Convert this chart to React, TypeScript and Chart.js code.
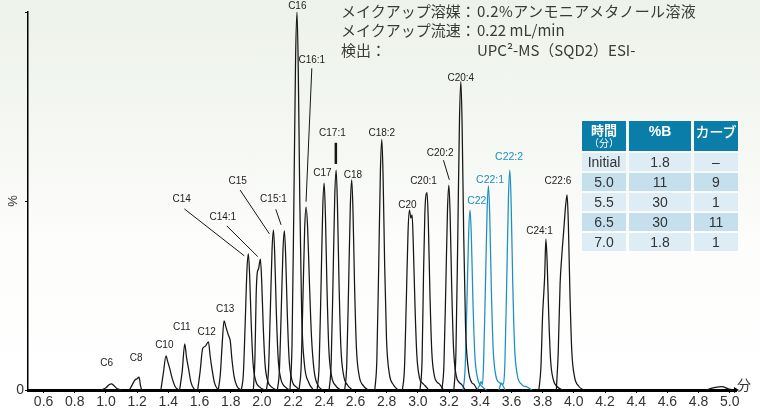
import React, { useEffect, useRef } from "react";
import { Chart, registerables } from "chart.js";

Chart.register(...registerables);

// ---- x-axis ticks (minutes) ----
const xTicks = [0.6, 0.8, 1.0, 1.2, 1.4, 1.6, 1.8, 2.0, 2.2, 2.4, 2.6, 2.8, 3.0, 3.2, 3.4, 3.6, 3.8, 4.0, 4.2, 4.4, 4.6, 4.8, 5.0];
const yTicks = [0, 50, 100];

// ---- chromatogram traces: [time (min), intensity (%)] ----
const pkC6 = [[0.97, 0], [1.0, 0.6], [1.02, 1.4], [1.035, 1.6], [1.05, 1.2], [1.07, 0.4], [1.1, 0]];
const pkC8 = [[1.15, 0], [1.17, 1.5], [1.185, 2.6], [1.2, 3.0], [1.212, 3.4], [1.22, 1.5], [1.228, 0]];
const pkC10 = [[1.352, 0], [1.368, 4.5], [1.385, 9.0], [1.396, 7.5], [1.41, 5.5], [1.425, 3], [1.445, 0.8], [1.47, 0]];
const pkC11 = [[1.472, 0], [1.489, 5], [1.505, 12.2], [1.517, 8.5], [1.53, 5.5], [1.545, 2], [1.565, 0.3], [1.58, 0]];
const pkC12 = [[1.588, 0], [1.604, 5], [1.62, 11.0], [1.635, 11.5], [1.657, 12.7], [1.668, 9], [1.68, 5.5], [1.695, 2], [1.715, 0.3], [1.73, 0]];
const pkC13 = [[1.72, 0], [1.733, 4], [1.745, 12], [1.757, 18.3], [1.77, 16.5], [1.785, 14.5], [1.797, 13], [1.808, 8], [1.822, 3.5], [1.84, 1], [1.865, 0]];
const pkC14 = [[1.868, 0], [1.881, 4.3], [1.893, 18], [1.904, 31.7], [1.913, 36], [1.921, 30.6], [1.931, 18], [1.943, 7.2], [1.96, 2.5], [1.988, 0.7], [2.018, 0]];
const pkC14_1 = [[1.945, 0], [1.955, 8], [1.963, 25], [1.97, 31], [1.978, 32], [1.99, 34.6], [1.998, 29.4], [2.008, 17.3], [2.02, 6.9], [2.037, 2.4], [2.065, 0.7], [2.095, 0]];
const pkC15 = [[2.029, 0], [2.042, 5.1], [2.054, 21.2], [2.065, 37.2], [2.074, 42.3], [2.082, 36], [2.092, 21.2], [2.104, 8.5], [2.121, 3], [2.149, 0.8], [2.179, 0]];
const pkC15_1 = [[2.099, 0], [2.112, 5.1], [2.124, 21.1], [2.135, 37], [2.144, 42.1], [2.152, 35.8], [2.162, 21.1], [2.174, 8.4], [2.191, 2.9], [2.219, 0.8], [2.249, 0]];
const pkC16 = [[2.18, 0], [2.193, 12], [2.205, 50], [2.216, 88], [2.225, 100], [2.233, 85], [2.243, 50], [2.255, 20], [2.272, 7], [2.3, 2], [2.33, 0]];
const pkC16_1 = [[2.238, 0], [2.251, 5.8], [2.263, 24.2], [2.274, 42.6], [2.283, 48.4], [2.293, 43], [2.305, 28], [2.318, 14], [2.335, 5], [2.36, 1.2], [2.39, 0]];
const pkC17 = [[2.354, 0], [2.367, 6.6], [2.379, 27.4], [2.39, 48.1], [2.399, 54.7], [2.407, 46.5], [2.417, 27.4], [2.429, 10.9], [2.446, 3.8], [2.474, 1.1], [2.504, 0]];
const pkC17_1 = [[2.431, 0], [2.444, 7], [2.456, 29.1], [2.467, 51.2], [2.476, 58.2], [2.484, 49.5], [2.494, 29.1], [2.506, 11.6], [2.523, 4.1], [2.551, 1.2], [2.581, 0]];
const pkC18 = [[2.531, 0], [2.544, 6.7], [2.556, 27.8], [2.567, 48.9], [2.576, 55.6], [2.584, 47.3], [2.594, 27.8], [2.606, 11.1], [2.623, 3.9], [2.651, 1.1], [2.681, 0]];
const pkC18_2 = [[2.724, 0], [2.737, 8], [2.749, 33.2], [2.76, 58.3], [2.769, 66.3], [2.777, 56.4], [2.787, 33.2], [2.799, 13.3], [2.816, 4.6], [2.844, 1.3], [2.874, 0]];
const pkC20 = [[2.901, 0], [2.914, 5.7], [2.926, 23.8], [2.937, 41.9], [2.946, 47.6], [2.955, 45.5], [2.963, 46.3], [2.971, 38], [2.981, 23], [2.993, 9.5], [3.01, 3.3], [3.03, 1.8], [3.045, 1.2], [3.07, 0]];
const pkC20_1 = [[3.014, 0], [3.027, 8], [3.036, 30], [3.045, 47], [3.059, 52.2], [3.067, 44.4], [3.077, 26.1], [3.089, 10.4], [3.106, 3.7], [3.125, 2], [3.14, 1.5], [3.165, 0]];
const pkC20_2 = [[3.154, 0], [3.167, 6.5], [3.179, 27.1], [3.19, 47.7], [3.199, 54.2], [3.207, 46.1], [3.217, 27.1], [3.229, 10.8], [3.246, 3.8], [3.265, 2], [3.28, 1.5], [3.304, 0]];
const pkC20_4 = [[3.231, 0], [3.244, 9.8], [3.256, 40.8], [3.267, 71.8], [3.276, 81.6], [3.284, 69.4], [3.294, 40.8], [3.306, 16.3], [3.323, 5.7], [3.345, 2], [3.36, 1.5], [3.381, 0]];
const pkC22 = [[3.29, 0], [3.303, 5.7], [3.315, 23.8], [3.326, 41.9], [3.335, 47.6], [3.343, 40.5], [3.353, 23.8], [3.365, 9.5], [3.382, 3.3], [3.41, 1], [3.44, 0]];
const pkC22_1 = [[3.38, 0], [3.395, 1.2], [3.405, 2.2], [3.414, 1.5], [3.421, 6.5], [3.433, 27], [3.444, 47.5], [3.453, 54], [3.461, 45.9], [3.471, 27], [3.483, 10.8], [3.5, 3.8], [3.52, 2], [3.54, 1.5], [3.56, 0]];
const pkC22_2 = [[3.52, 0], [3.535, 1.8], [3.545, 1.5], [3.558, 7], [3.57, 29.1], [3.581, 51.2], [3.59, 58.2], [3.598, 49.5], [3.608, 29.1], [3.62, 11.6], [3.637, 4.1], [3.665, 1.5], [3.7, 0.8], [3.73, 0]];
const pkC24_1 = [[3.776, 0], [3.789, 6], [3.8, 20], [3.808, 26], [3.813, 30], [3.821, 39.9], [3.829, 33.9], [3.839, 20], [3.851, 8], [3.868, 2.8], [3.896, 0.8], [3.926, 0]];
const pkC22_6 = [[3.888, 0], [3.9, 10], [3.912, 28], [3.922, 35], [3.935, 42], [3.948, 49], [3.957, 51.6], [3.965, 43.9], [3.975, 25.8], [3.987, 10.3], [4.004, 3.6], [4.032, 1], [4.062, 0]];
const pkTail = [[4.85, 0], [4.9, 0.6], [4.95, 0.9], [4.99, 0.3], [5.02, 0]];

const blackTraces = [pkC6, pkC8, pkC10, pkC11, pkC12, pkC13, pkC14, pkC14_1, pkC15, pkC15_1, pkC16, pkC16_1, pkC17, pkC17_1, pkC18, pkC18_2, pkC20, pkC20_1, pkC20_2, pkC20_4, pkC24_1, pkC22_6, pkTail];
const blueTraces = [pkC22, pkC22_1, pkC22_2];

// ---- peak labels ----
const labelNames = ["C6", "C8", "C10", "C11", "C12", "C13", "C14", "C14:1", "C15", "C15:1", "C16", "C16:1", "C17", "C17:1", "C18", "C18:2", "C20", "C20:1", "C20:2", "C20:4", "C22", "C22:1", "C22:2", "C24:1", "C22:6"];
const labelTimes = [1.005, 1.193, 1.374, 1.486, 1.646, 1.764, 1.486, 1.749, 1.845, 2.074, 2.227, 2.32, 2.388, 2.452, 2.583, 2.769, 2.933, 3.036, 3.143, 3.275, 3.378, 3.463, 3.585, 3.78, 3.898];
const labelLevels = [7.1, 8.4, 11.8, 16.7, 15.3, 21.4, 50.4, 45.7, 55.3, 50.4, 101.6, 87.3, 57.3, 67.9, 56.9, 67.9, 48.9, 55.1, 62.6, 82.5, 50.1, 55.6, 61.6, 42.1, 55.1];
const blueLabels = ["C22", "C22:1", "C22:2"];

// ---- leader lines ----
const leaderT1 = [1.503, 1.775, 1.86, 2.089, 2.32, 2.474, 3.164];
const leaderV1 = [47.9, 43.4, 52.9, 47.8, 85.1, 65.4, 60.8];
const leaderT2 = [1.887, 1.973, 2.048, 2.123, 2.283, 2.474, 3.202];
const leaderV2 = [35.5, 35.3, 41.3, 43.7, 49.8, 59.8, 55.6];
const leaderW = [1, 1, 1, 1, 1, 2.5, 1];

// ---- header text ----
const infoKeys = ["メイクアップ溶媒：", "メイクアップ流速：", "検出："];
const infoValues = ["0.2%アンモニアメタノール溶液", "0.22 mL/min", "UPC²-MS（SQD2）ESI-"];

// ---- gradient table ----
const tableTimes = ["Initial", "5.0", "5.5", "6.5", "7.0"];
const tableB = ["1.8", "11", "30", "30", "1.8"];
const tableCurve = ["–", "9", "1", "11", "1"];

const BLACK = "#161616";
const BLUE = "#1b8fc3";
const SANS = "'Liberation Sans', Arial, sans-serif";
const CJK = "'Noto Sans CJK JP', 'Noto Sans', sans-serif";

const labelPlugin = {
  id: "peakLabels",
  afterDatasetsDraw(chart: any) {
    const { ctx, scales, chartArea } = chart;
    const xs = scales.x;
    const ys = scales.y;
    ctx.save();
    ctx.strokeStyle = BLACK;
    for (let i = 0; i < leaderT1.length; i++) {
      ctx.lineWidth = leaderW[i];
      ctx.beginPath();
      ctx.moveTo(xs.getPixelForValue(leaderT1[i]), ys.getPixelForValue(leaderV1[i]));
      ctx.lineTo(xs.getPixelForValue(leaderT2[i]), ys.getPixelForValue(leaderV2[i]));
      ctx.stroke();
    }
    ctx.textAlign = "center";
    ctx.textBaseline = "middle";
    for (let i = 0; i < labelNames.length; i++) {
      const blue = blueLabels.includes(labelNames[i]);
      ctx.fillStyle = blue ? BLUE : "#222";
      ctx.font = (blue ? "10.5px " : "10px ") + SANS;
      ctx.fillText(labelNames[i], xs.getPixelForValue(labelTimes[i]), ys.getPixelForValue(labelLevels[i]));
    }
    const yb = chartArea.bottom;
    const xr = chartArea.right;
    ctx.fillStyle = "#000";
    ctx.beginPath();
    ctx.moveTo(xr - 2, yb - 3);
    ctx.lineTo(xr + 3, yb);
    ctx.lineTo(xr - 2, yb + 3);
    ctx.closePath();
    ctx.fill();
    ctx.fillStyle = "#333";
    ctx.font = "14px " + CJK;
    ctx.textAlign = "left";
    ctx.fillText("分", xr + 1, yb - 5);
    ctx.restore();
  },
};

function ChromChart() {
  const ref = useRef<HTMLCanvasElement | null>(null);
  useEffect(() => {
    if (!ref.current) return;
    const mk = (pts: number[][], color: string) => ({
      data: pts.map(([x, y]) => ({ x, y })),
      borderColor: color,
      borderWidth: 1.25,
      pointRadius: 0,
      fill: false,
      cubicInterpolationMode: "monotone" as const,
      clip: 8,
    });
    const datasets = [
      ...blackTraces.map((p) => mk(p, BLACK)),
      ...blueTraces.map((p) => mk(p, BLUE)),
    ];
    const chart = new Chart(ref.current, {
      type: "line",
      data: { datasets },
      options: {
        responsive: false,
        animation: false,
        layout: { padding: { left: 0, right: 24, top: 12, bottom: 0 } },
        plugins: { legend: { display: false }, tooltip: { enabled: false } },
        scales: {
          x: {
            type: "linear",
            min: 0.5,
            max: 5.04,
            afterBuildTicks: (ax: any) => {
              ax.ticks = xTicks.map((v) => ({ value: v }));
            },
            afterFit: (s: any) => {
              s.height = 22;
            },
            ticks: {
              autoSkip: false,
              maxRotation: 0,
              padding: 1,
              color: "#333",
              font: { size: 14, family: SANS },
              callback: (v: any) => Number(v).toFixed(1),
            },
            grid: { display: true, drawOnChartArea: false, drawTicks: true, tickLength: 3, color: "#000" },
            border: { display: true, color: "#000", width: 3 },
          },
          y: {
            min: 0,
            max: 100,
            afterBuildTicks: (ax: any) => {
              ax.ticks = yTicks.map((v) => ({ value: v }));
            },
            afterFit: (s: any) => {
              s.width = 28;
            },
            ticks: {
              padding: 1,
              color: "#333",
              font: { size: 14, family: SANS },
              callback: (v: any) => (Number(v) === 0 ? "0" : ""),
            },
            title: {
              display: true,
              text: "%",
              color: "#333",
              font: { size: 13, family: SANS },
              padding: { top: 6, bottom: 0 },
            },
            grid: { display: true, drawOnChartArea: false, drawTicks: true, tickLength: 3, color: "#000" },
            border: { display: true, color: "#000", width: 1.5 },
          },
        },
      },
      plugins: [labelPlugin],
    });
    return () => chart.destroy();
  }, []);
  return <canvas ref={ref} width={760} height={412} style={{ display: "block", position: "absolute", left: 0, top: 0 }} />;
}

function InfoText() {
  return (
    <>
      {infoKeys.map((k, i) => (
        <React.Fragment key={k}>
          <div
            style={{
              position: "absolute",
              left: 341,
              top: 1 + i * 19.3,
              font: "15px " + CJK,
              lineHeight: "20px",
              color: "#3a3a3a",
              whiteSpace: "nowrap",
            }}
          >
            {k}
          </div>
          <div
            style={{
              position: "absolute",
              left: 477,
              top: 1 + i * 19.3,
              font: "15px " + CJK,
              lineHeight: "20px",
              color: "#3a3a3a",
              whiteSpace: "nowrap",
              letterSpacing: i === 0 ? "0.4px" : "0px",
            }}
          >
            {infoValues[i]}
          </div>
        </React.Fragment>
      ))}
    </>
  );
}

function GradientTable() {
  const cell = (bg: string, color: string, content: React.ReactNode, key: string, extra: React.CSSProperties = {}) => (
    <div
      key={key}
      style={{
        background: bg,
        color,
        display: "flex",
        alignItems: "center",
        justifyContent: "center",
        font: "14px " + SANS,
        ...extra,
      }}
    >
      {content}
    </div>
  );
  const HEAD = "#0a7ea8";
  const rows: React.ReactNode[] = [];
  rows.push(
    cell(
      HEAD,
      "#fff",
      <div style={{ textAlign: "center", lineHeight: "12px" }}>
        <div style={{ font: "bold 13px " + CJK, lineHeight: "14px" }}>時間</div>
        <div style={{ font: "10px " + CJK, lineHeight: "12px" }}>（分）</div>
      </div>,
      "h1"
    )
  );
  rows.push(cell(HEAD, "#fff", "%B", "h2", { font: "bold 14px " + SANS, alignItems: "flex-start", paddingTop: 2 }));
  rows.push(cell(HEAD, "#fff", "カーブ", "h3", { font: "500 14px " + CJK, alignItems: "flex-start", paddingTop: 0 }));
  tableTimes.forEach((t, i) => {
    const bg = i % 2 === 0 ? "#deecf5" : "#c6dfed";
    rows.push(cell(bg, "#333", t, "t" + i));
    rows.push(cell(bg, "#333", tableB[i], "b" + i));
    rows.push(cell(bg, "#333", tableCurve[i], "c" + i));
  });
  return (
    <div
      style={{
        position: "absolute",
        left: 582,
        top: 121,
        display: "grid",
        gridTemplateColumns: "44px 62px 44px",
        gridTemplateRows: "30px repeat(5, 18px)",
        columnGap: 3,
        rowGap: 2,
      }}
    >
      {rows}
    </div>
  );
}

export default function App() {
  return (
    <div
      style={{
        position: "fixed",
        left: 0,
        top: 0,
        width: 760,
        height: 412,
        overflow: "hidden",
        background: "linear-gradient(180deg, #edf2ea 0%, #f4f7f2 30%, #fdfdfc 60%, #ffffff 100%)",
      }}
    >
      <ChromChart />
      <InfoText />
      <GradientTable />
    </div>
  );
}
